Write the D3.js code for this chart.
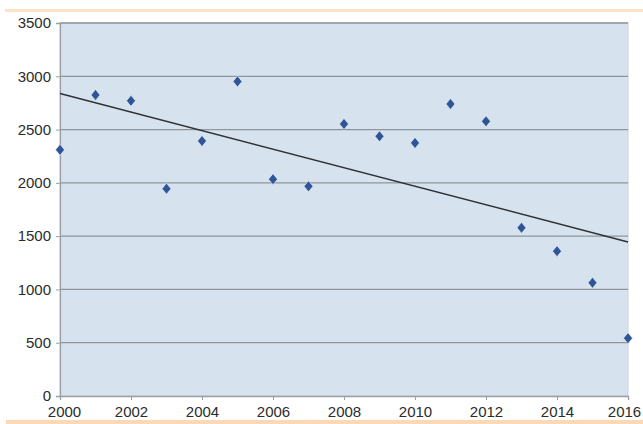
<!DOCTYPE html>
<html>
<head>
<meta charset="utf-8">
<script src="https://cdn.jsdelivr.net/npm/d3@7"></script>
<style>
  body { margin: 0; background: #fff; }
  svg { display: block; font-family: "Liberation Sans", Arial, sans-serif; }
</style>
</head>
<body>
<svg id="chart" width="643" height="424"></svg>
<script>
// data
const years = [2000, 2001, 2002, 2003, 2004, 2005, 2006, 2007, 2008,
               2009, 2010, 2011, 2012, 2013, 2014, 2015, 2016]
const values = [2310, 2825, 2770, 1945, 2393, 2952, 2034, 1968, 2553,
                2437, 2375, 2740, 2577, 1578, 1359, 1062, 543]
const yTicks = [0, 500, 1000, 1500, 2000, 2500, 3000, 3500]
const xTicks = [2000, 2002, 2004, 2006, 2008, 2010, 2012, 2014, 2016]

const svg = d3.select("#chart")
const margin = { top: 23, right: 15, bottom: 28, left: 60 }
const width = 643 - margin.left - margin.right
const height = 424 - margin.top - margin.bottom

const x = d3.scaleLinear().domain([2000, 2016]).range([0, width])
const y = d3.scaleLinear().domain([0, 3500]).range([height, 0])

// peach bands top and bottom
svg.append("rect")
    .attr("x", 5).attr("y", 9).attr("width", 638).attr("height", 3)
    .attr("fill", "#fde3c6")
svg.append("rect")
    .attr("x", 6).attr("y", 420).attr("width", 637).attr("height", 4)
    .attr("fill", "#fcd9b4")

const g = svg.append("g")
    .attr("transform", `translate(${margin.left},${margin.top})`)

// plot background
g.append("rect")
    .attr("width", width).attr("height", height)
    .attr("fill", "#d6e3ef")
    .attr("stroke", "#c9d0d8")

// horizontal gridlines
g.selectAll("line.grid")
    .data(yTicks.filter(d => d > 0))
    .enter()
    .append("line")
    .attr("class", "grid")
    .attr("x1", 0).attr("x2", width)
    .attr("y1", d => y(d)).attr("y2", d => y(d))
    .attr("stroke", "#8e959c")
    .attr("stroke-width", 1.3)

// axes
const yAxis = g.append("g")
    .call(d3.axisLeft(y).tickValues(yTicks).tickSize(4).tickPadding(4).tickFormat(d3.format("d")))
const xAxis = g.append("g")
    .attr("transform", `translate(0,${height})`)
    .call(d3.axisBottom(x).tickValues(xTicks).tickSize(4).tickPadding(6).tickFormat(d3.format("d")))

for (const ax of [yAxis, xAxis]) {
    ax.select(".domain").attr("stroke", "#9a9fa5").attr("stroke-width", 1.3)
    ax.selectAll(".tick line").attr("stroke", "#9a9fa5")
    ax.selectAll("text")
        .attr("fill", "#2b2b2b")
        .style("font-size", "15px")
}
yAxis.selectAll("text").attr("dx", "-1")
// end labels pulled inward like the original
xAxis.selectAll(".tick text")
    .attr("dx", d => d === 2000 ? 4 : d === 2016 ? -4 : 0)

// least-squares trend line from the data
const mx = d3.mean(years)
const my = d3.mean(values)
const slope = d3.sum(years, (d, i) => (d - mx) * (values[i] - my)) /
              d3.sum(years, d => (d - mx) * (d - mx))
const trend = [2000, 2016].map(t => ({ x: t, y: my + slope * (t - mx) }))

g.append("path")
    .datum(trend)
    .attr("fill", "none")
    .attr("stroke", "#2e3238")
    .attr("stroke-width", 1.5)
    .attr("d", d3.line().x(d => x(d.x)).y(d => y(d.y)))

// diamond markers
const pts = years.map((yr, i) => ({ x: yr, y: values[i] }))
g.selectAll("path.pt")
    .data(pts)
    .enter()
    .append("path")
    .attr("class", "pt")
    .attr("transform", d => `translate(${x(d.x)},${y(d.y)})`)
    .attr("d", "M0,-5.5L4.5,0L0,5.5L-4.5,0Z")
    .attr("fill", "#2f5597")
    .attr("stroke", "#eef3fa")
    .attr("stroke-width", 1)
    .attr("stroke-opacity", 0.6)
</script>
</body>
</html>
